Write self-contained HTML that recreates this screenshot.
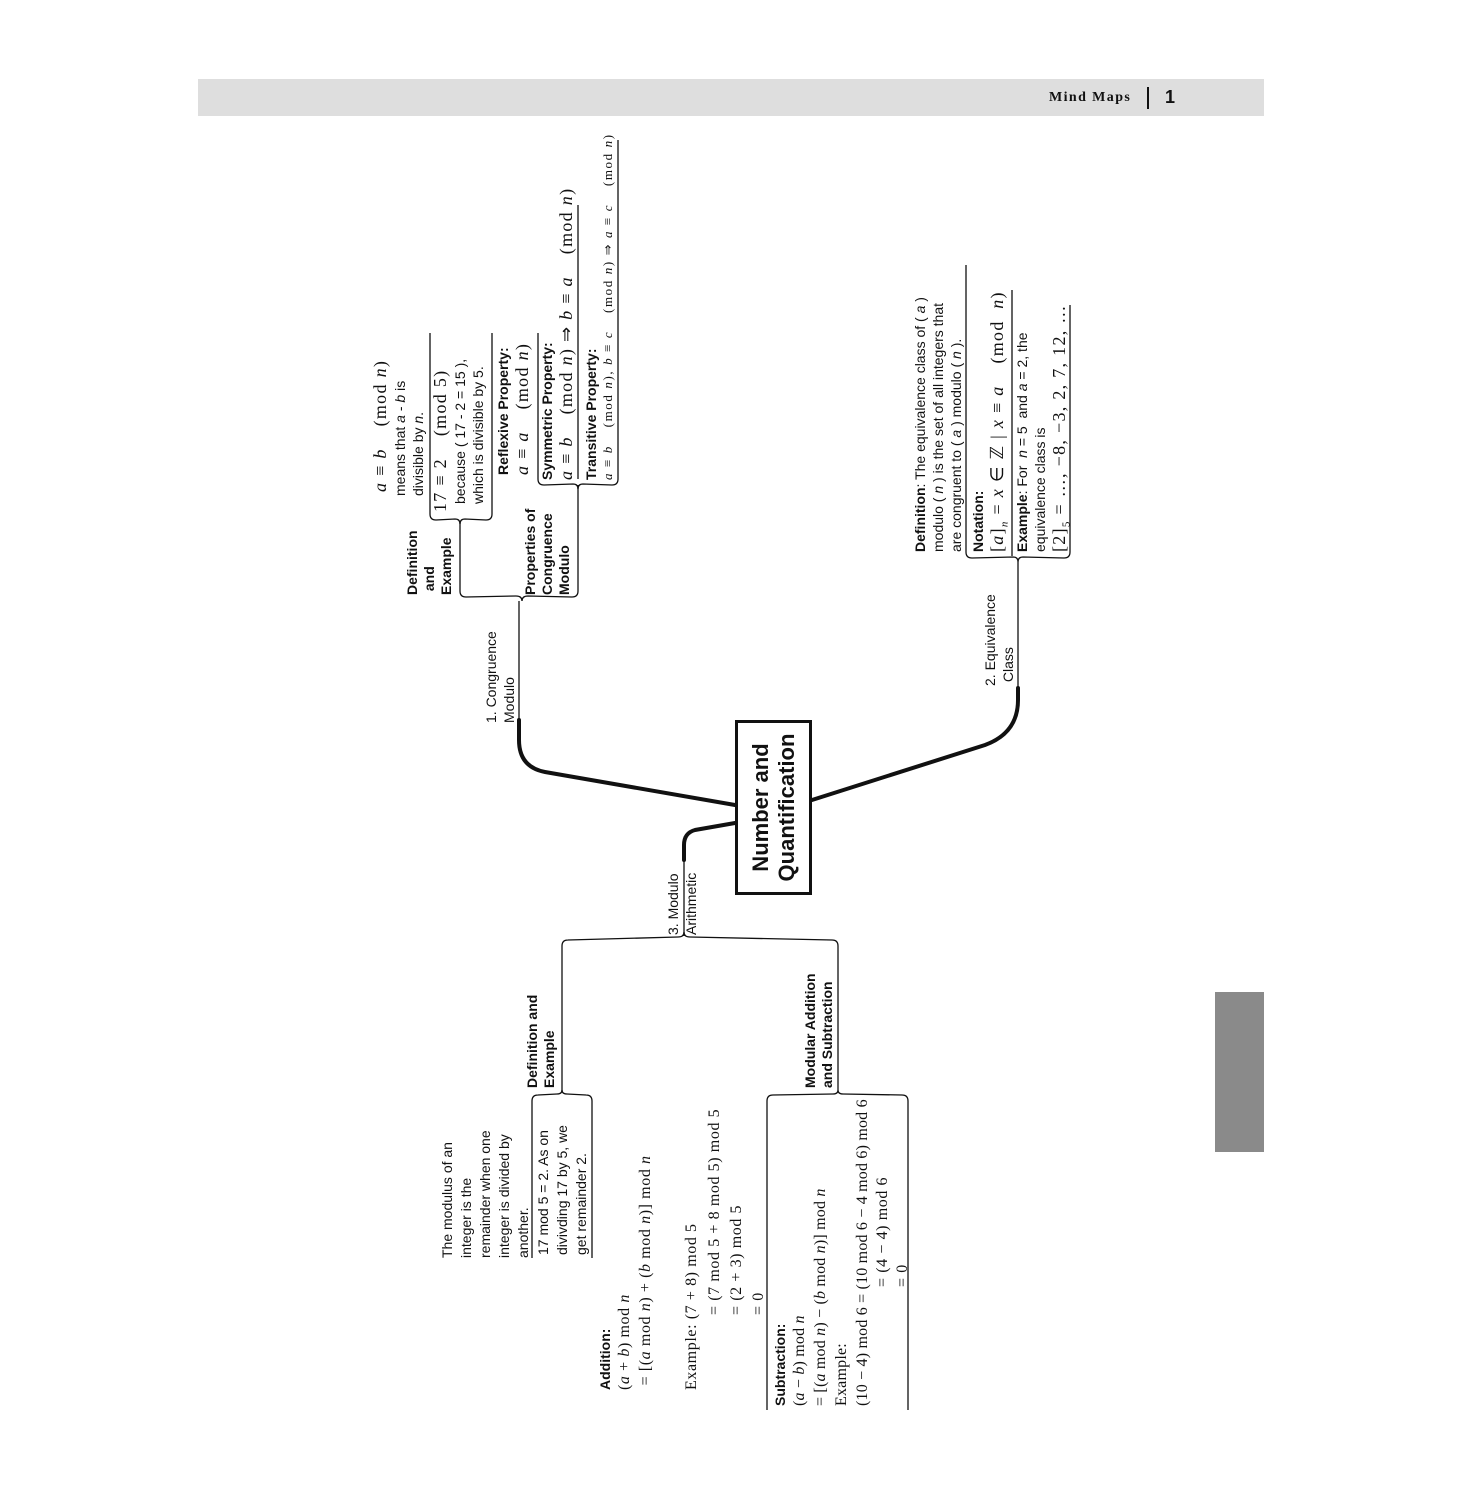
<!DOCTYPE html>
<html><head><meta charset="utf-8">
<style>
html,body{margin:0;padding:0;background:#fff;}
body{width:1463px;height:1500px;position:relative;overflow:hidden;font-family:"Liberation Sans",Arial,sans-serif;color:#111;}
#rot{position:absolute;left:370px;top:1420px;width:1300px;height:800px;transform-origin:0 0;transform:rotate(-90deg);}
.t{position:absolute;white-space:nowrap;font-size:14px;line-height:18px;}
.b{font-weight:bold;}
.m{font-family:"Liberation Serif",serif;font-size:18px;line-height:21px;letter-spacing:1.3px;}
.ms{font-family:"Liberation Serif",serif;font-size:13px;letter-spacing:1.6px;}
.m2{font-family:"Liberation Serif",serif;font-size:16px;line-height:21px;letter-spacing:0.6px;}
i{font-style:italic;}
</style></head><body>
<div style="position:absolute;left:198px;top:79px;width:1066px;height:37px;background:#dedede;"></div>
<div style="position:absolute;left:1049px;top:90px;font-family:'Liberation Serif',serif;font-weight:bold;font-size:14px;letter-spacing:1.4px;">Mind Maps</div>
<div style="position:absolute;left:1147px;top:87px;width:2px;height:22px;background:#111;"></div>
<div style="position:absolute;left:1165px;top:87px;font-weight:bold;font-size:18px;">1</div>
<div style="position:absolute;left:1215px;top:992px;width:49px;height:160px;background:#8a8a8a;"></div>

<svg width="1463" height="1500" style="position:absolute;left:0;top:0;" fill="none" stroke="#111">
<g stroke-width="4" stroke-linecap="round">
<path d="M735,805 L545,772 Q519,767 519,740 L519,720"/>
<path d="M812,800 L985,745 Q1018,733 1018,700 L1018,688"/>
<path d="M735,823 L695,830 Q684,833 684,845 L684,860"/>
</g>
<g stroke-width="1.3">
<path d="M519,720 L519,601"/>
<path d="M1018,688 L1018,562"/>
<path d="M684,860 L684,936"/>
<path d="M460,591 Q460,597 466,597 L516,596 Q522,596 522,601 Q522,596 528,596 L572,597 Q578,597 578,591"/>
<path d="M460,591 L460,522 M578,591 L578,485"/>
<path d="M430,514 Q430,520 436,520 L455,519 Q460,519 460,524 Q460,519 465,519 L486,520 Q492,520 492,514"/>
<path d="M430,514 L430,333 M492,514 L492,333"/>
<path d="M538,479 Q538,485 544,485 L573,484 Q578,484 578,489 Q578,484 583,484 L612,485 Q618,485 618,479"/>
<path d="M538,479 L538,333 M578,479 L578,205 M618,479 L618,140"/>
<path d="M966,552 Q966,558 972,558 L1013,557 Q1018,557 1018,562 Q1018,557 1023,557 L1064,558 Q1070,558 1070,552"/>
<path d="M966,552 L966,265 M1012,556 L1012,290 M1070,552 L1070,305"/>
<path d="M562,946 Q562,940 568,940 L678,937 Q684,937 684,932 Q684,937 690,937 L832,940 Q838,940 838,946"/>
<path d="M562,946 L562,1092 M838,946 L838,1090"/>
<path d="M532,1101 Q532,1095 538,1095 L557,1094 Q562,1094 562,1090 Q562,1094 567,1094 L586,1095 Q592,1095 592,1101"/>
<path d="M532,1101 L532,1258 M592,1101 L592,1258"/>
<path d="M767,1101 Q767,1095 773,1095 L833,1094 Q838,1094 838,1090 Q838,1094 843,1094 L902,1095 Q908,1095 908,1101"/>
<path d="M767,1101 L767,1410 M908,1101 L908,1410"/>
</g>
</svg>

<div id="rot">
<div style="position:absolute;left:525px;top:365px;width:175px;height:77px;box-sizing:border-box;border:3px solid #111;display:flex;align-items:center;justify-content:center;text-align:center;font-weight:bold;font-size:22px;line-height:26px;">Number and<br>Quantification</div>

<div class="t" style="left:697px;top:112px;">1. Congruence<br>Modulo</div>
<div class="t b" style="left:825px;top:34px;line-height:17px;">Definition<br>&nbsp;and<br>Example</div>
<div class="t" style="left:908px;top:0px;"><div class="m" style="padding-left:20px;"><i>a</i> ≡ <i>b</i> &ensp; (mod <i>n</i>)</div><div style="line-height:18px;padding-left:16px;">means that <i>a</i> - <i>b</i> is<br>divisible by <i>n</i>.</div></div>
<div class="t" style="left:908px;top:60px;"><div class="m">17 ≡ 2 &ensp; (mod 5)</div><div style="line-height:18px;padding-left:8px;">because ( 17 - 2 = 15 ),<br>which is divisible by 5.</div></div>
<div class="t b" style="left:825px;top:152px;line-height:17px;">Properties of<br>Congruence<br>Modulo</div>
<div class="t" style="left:945px;top:124px;"><div class="b">Reflexive Property:</div><div class="m"><i>a</i> ≡ <i>a</i> &ensp; (mod <i>n</i>)</div></div>
<div class="t" style="left:940px;top:168px;"><div class="b">Symmetric Property:</div><div class="m"><i>a</i> ≡ <i>b</i> &ensp; (mod <i>n</i>) ⇒ <i>b</i> ≡ <i>a</i> &ensp; (mod <i>n</i>)</div></div>
<div class="t" style="left:940px;top:212px;"><div class="b">Transitive Property:</div><div class="ms" style="line-height:16px;"><i>a</i> ≡ <i>b</i> &ensp; (mod <i>n</i>), <i>b</i> ≡ <i>c</i> &ensp; (mod <i>n</i>) ⇒ <i>a</i> ≡ <i>c</i> &ensp; (mod <i>n</i>)</div></div>

<div class="t" style="left:734px;top:611px;">2. Equivalence<br>&nbsp;Class</div>
<div class="t" style="left:868px;top:541px;"><b>Definition</b>: The equivalence class of ( <i>a</i> )<br>modulo ( <i>n</i> ) is the set of all integers that<br>are congruent to ( <i>a</i> ) modulo ( <i>n</i> ).</div>
<div class="t" style="left:868px;top:599px;"><div class="b">Notation:</div><div class="m">[<i>a</i>]<sub style="font-size:11px;"><i>n</i></sub> = <i>x</i> ∈ ℤ | <i>x</i> ≡ <i>a</i> &ensp; (mod &nbsp;<i>n</i>)</div></div>
<div class="t" style="left:868px;top:643px;"><b>Example</b>: For &nbsp;<i>n</i> = 5 &nbsp;and <i>a</i> = 2, the<br>equivalence class is<div class="m">[2]<sub style="font-size:11px;">5</sub> = …, −8, −3, 2, 7, 12, …</div></div>

<div class="t" style="left:485px;top:294px;">3. Modulo<br>Arithmetic</div>
<div class="t b" style="left:332px;top:154px;line-height:17px;">Definition and<br>Example</div>
<div class="t b" style="left:332px;top:432px;line-height:17px;">Modular Addition<br>and Subtraction</div>
<div class="t" style="left:162px;top:68px;line-height:19px;">The modulus of an<br>integer is the<br>remainder when one<br>integer is divided by<br>another.</div>
<div class="t" style="left:165px;top:164px;line-height:19px;">17 mod 5 = 2. As on<br>divivding 17 by 5, we<br>get remainder 2.</div>

<div class="t" style="left:30px;top:226px;"><div class="b">Addition:</div><div class="m2">(<i>a</i> + <i>b</i>) mod <i>n</i><br>&nbsp;= [(<i>a</i> mod <i>n</i>) + (<i>b</i> mod <i>n</i>)] mod <i>n</i></div></div>
<div class="t m2" style="left:30px;top:311px;">Example: (7 + 8) mod 5</div>
<div class="t m2" style="left:105px;top:334px;line-height:22px;">= (7 mod 5 + 8 mod 5) mod 5<br>= (2 + 3) mod 5<br>= 0</div>

<div class="t" style="left:14px;top:401px;"><div class="b">Subtraction:</div><div class="m2" style="letter-spacing:0.2px;">(<i>a</i> − <i>b</i>) mod <i>n</i><br>= [(<i>a</i> mod <i>n</i>) − (<i>b</i> mod <i>n</i>)] mod <i>n</i><br>Example:<br>(10 − 4) mod 6 = (10 mod 6 − 4 mod 6) mod 6</div></div>
<div class="t m2" style="left:133px;top:503px;line-height:20px;">= (4 − 4) mod 6<br>= 0</div>
</div>
</body></html>
